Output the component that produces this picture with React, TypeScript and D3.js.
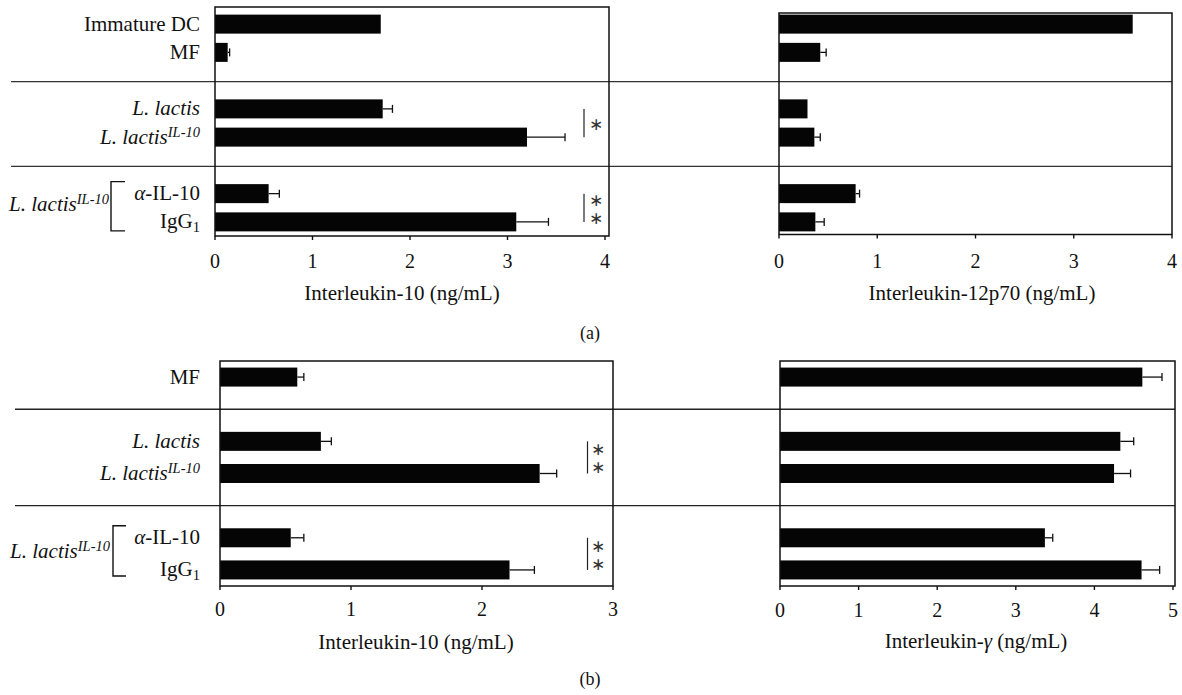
import React from 'react';
import * as d3 from 'd3';

// ---------- data ----------
const topCategories = ['Immature DC', 'MF', 'L. lactis', 'L. lactis^IL-10', 'α-IL-10', 'IgG_1'];
const il10TopValues = [1.7, 0.13, 1.72, 3.2, 0.55, 3.09];
const il10TopErrors: (number | null)[] = [null, 0.02, 0.1, 0.39, 0.11, 0.33];
const il12Values = [3.6, 0.42, 0.29, 0.36, 0.78, 0.37];
const il12Errors: (number | null)[] = [null, 0.06, null, 0.06, 0.04, 0.09];

const bottomCategories = ['MF', 'L. lactis', 'L. lactis^IL-10', 'α-IL-10', 'IgG_1'];
const il10BottomValues = [0.59, 0.77, 2.44, 0.54, 2.21];
const il10BottomErrors: (number | null)[] = [0.05, 0.08, 0.13, 0.1, 0.19];
const ifnValues = [4.61, 4.33, 4.25, 3.37, 4.6];
const ifnErrors: (number | null)[] = [0.25, 0.17, 0.21, 0.1, 0.23];

const ticksIl10Top = [0, 1, 2, 3, 4];
const ticksIl12 = [0, 1, 2, 3, 4];
const ticksIl10Bottom = [0, 1, 2, 3];
const ticksIfn = [0, 1, 2, 3, 4, 5];

const groupLabel = 'L. lactis^IL-10';
const topSignificance = [
  { from: 2, to: 3, stars: 1 },
  { from: 4, to: 5, stars: 2 },
];
const bottomSignificance = [
  { from: 1, to: 2, stars: 2 },
  { from: 3, to: 4, stars: 2 },
];

// ---------- layout ----------
const FONT = "'Liberation Serif', 'Times New Roman', serif";
const topSlots = [0, 1, 3, 4, 6, 7];
const topSeparatorSlots = [2, 5];
const bottomSlots = [0, 2, 3, 5, 6];
const bottomSeparatorSlots = [1, 4];
const BAR_H = 19;

function Label({ cat, x, y, anchor = 'end' }: { cat: string; x: number; y: number; anchor?: string }) {
  let base = cat;
  let sup: string | null = null;
  let sub: string | null = null;
  if (cat.includes('^')) [base, sup] = cat.split('^');
  else if (cat.includes('_')) [base, sub] = cat.split('_');
  const italicBase = base.startsWith('L.');
  return (
    <text x={x} y={y} textAnchor={anchor} fontFamily={FONT} fontSize={21} fill="#111">
      {base.startsWith('α') ? (
        <>
          <tspan fontStyle="italic">α</tspan>
          <tspan>{base.slice(1)}</tspan>
        </>
      ) : (
        <tspan fontStyle={italicBase ? 'italic' : 'normal'}>{base}</tspan>
      )}
      {sup && (
        <tspan fontStyle="italic" fontSize={14.5} dy={-7}>
          {sup}
        </tspan>
      )}
      {sub && (
        <tspan fontSize={14.5} dy={4}>
          {sub}
        </tspan>
      )}
    </text>
  );
}

type PanelProps = {
  values: number[];
  errors: (number | null)[];
  domain: [number, number];
  range: [number, number];
  yScale: d3.ScaleBand<number>;
  slots: number[];
  boxTop: number;
  axisY: number;
  boxRightPad: number;
  ticks: number[];
  tickY: number;
};

function Panel(p: PanelProps) {
  const x = d3.scaleLinear().domain(p.domain).range(p.range);
  const cy = (i: number) => (p.yScale(p.slots[i]) as number) + p.yScale.bandwidth() / 2;
  const left = x(p.domain[0]);
  const right = x(p.domain[1]) + p.boxRightPad;
  return (
    <g>
      {p.values.map((v, i) => (
        <rect key={'b' + i} x={left} y={cy(i) - BAR_H / 2} width={x(v) - left} height={BAR_H} fill="#050505" />
      ))}
      {p.values.map((v, i) => {
        const e = p.errors[i];
        if (e == null) return null;
        const x2 = x(v + e);
        return (
          <g key={'e' + i} stroke="#111" strokeWidth={1.3}>
            <line x1={x(v)} x2={x2} y1={cy(i)} y2={cy(i)} />
            <line x1={x2} x2={x2} y1={cy(i) - 4} y2={cy(i) + 4} />
          </g>
        );
      })}
      <path
        d={`M${left},${p.axisY} L${left},${p.boxTop} L${right},${p.boxTop} L${right},${p.axisY} Z`}
        fill="none"
        stroke="#111"
        strokeWidth={1.5}
      />
      {p.ticks.map((t) => (
        <g key={'t' + t}>
          <line x1={x(t)} x2={x(t)} y1={p.axisY} y2={p.axisY + 4} stroke="#111" strokeWidth={1.4} />
          <text x={x(t)} y={p.tickY} textAnchor="middle" fontFamily={FONT} fontSize={20} fill="#111">
            {t}
          </text>
        </g>
      ))}
    </g>
  );
}

function Significance({
  marks,
  cy,
  lineX,
  starX,
}: {
  marks: { from: number; to: number; stars: number }[];
  cy: (i: number) => number;
  lineX: number;
  starX: number;
}) {
  return (
    <g>
      {marks.map((m, k) => {
        const y1 = cy(m.from);
        const y2 = cy(m.to);
        const mid = (y1 + y2) / 2;
        return (
          <g key={k}>
            <line x1={lineX} x2={lineX} y1={y1} y2={y2} stroke="#222" strokeWidth={1.2} />
            <text
              x={starX}
              y={mid}
              writingMode="vertical-rl"
              textAnchor="middle"
              letterSpacing={-2}
              style={{ textOrientation: 'upright' } as React.CSSProperties}
              fontFamily="'DejaVu Sans', sans-serif"
              fontSize={17}
              fill="#333"
            >
              {'∗'.repeat(m.stars)}
            </text>
          </g>
        );
      })}
    </g>
  );
}

function Bracket({ x, y1, y2, w }: { x: number; y1: number; y2: number; w: number }) {
  return (
    <path d={`M${x + w},${y1} L${x},${y1} L${x},${y2} L${x + w},${y2}`} fill="none" stroke="#111" strokeWidth={1.4} />
  );
}

export default function App() {
  const yTop = d3.scaleBand<number>().domain(d3.range(8)).range([10, 236]);
  const yBottom = d3.scaleBand<number>().domain(d3.range(7)).range([361, 586]);
  const cyTop = (i: number) => (yTop(topSlots[i]) as number) + yTop.bandwidth() / 2;
  const cyBottom = (i: number) => (yBottom(bottomSlots[i]) as number) + yBottom.bandwidth() / 2;
  const slotCenterTop = (s: number) => (yTop(s) as number) + yTop.bandwidth() / 2;
  const slotCenterBottom = (s: number) => (yBottom(s) as number) + yBottom.bandwidth() / 2;

  const topGroupMid = (cyTop(4) + cyTop(5)) / 2;
  const bottomGroupMid = (cyBottom(3) + cyBottom(4)) / 2;

  return (
    <svg width={1182} height={695} style={{ position: 'absolute', left: 0, top: 0, background: '#fff' }}>
      <rect width={1182} height={695} fill="#fff" />

      {/* separators */}
      {topSeparatorSlots.map((s) => (
        <line key={'st' + s} x1={11} x2={1172} y1={slotCenterTop(s) + 1} y2={slotCenterTop(s) + 1} stroke="#333" strokeWidth={1.4} />
      ))}
      {bottomSeparatorSlots.map((s) => (
        <line key={'sb' + s} x1={15} x2={1175} y1={slotCenterBottom(s)} y2={slotCenterBottom(s)} stroke="#222" strokeWidth={1.4} />
      ))}

      {/* row labels */}
      {topCategories.map((c, i) => (
        <Label key={'lt' + i} cat={c} x={200} y={cyTop(i) + 6.5} />
      ))}
      {bottomCategories.map((c, i) => (
        <Label key={'lb' + i} cat={c} x={200} y={cyBottom(i) + 6.5} />
      ))}
      <Label cat={groupLabel} x={109} y={topGroupMid + 3} />
      <Label cat={groupLabel} x={110} y={bottomGroupMid + 4} />
      <Bracket x={111} y1={cyTop(4) - 12} y2={cyTop(5) + 9} w={14} />
      <Bracket x={113} y1={cyBottom(3) - 12} y2={cyBottom(4) + 6} w={13} />

      {/* panels */}
      <Panel
        values={il10TopValues}
        errors={il10TopErrors}
        domain={[0, 4]}
        range={[215, 605]}
        yScale={yTop}
        slots={topSlots}
        boxTop={7}
        axisY={236}
        boxRightPad={4}
        ticks={ticksIl10Top}
        tickY={267.5}
      />
      <Panel
        values={il12Values}
        errors={il12Errors}
        domain={[0, 4]}
        range={[779, 1172]}
        yScale={yTop}
        slots={topSlots}
        boxTop={13}
        axisY={234.5}
        boxRightPad={0}
        ticks={ticksIl12}
        tickY={268}
      />
      <Panel
        values={il10BottomValues}
        errors={il10BottomErrors}
        domain={[0, 3]}
        range={[220, 613]}
        yScale={yBottom}
        slots={bottomSlots}
        boxTop={361}
        axisY={586}
        boxRightPad={0}
        ticks={ticksIl10Bottom}
        tickY={616}
      />
      <Panel
        values={ifnValues}
        errors={ifnErrors}
        domain={[0, 5]}
        range={[780, 1173]}
        yScale={yBottom}
        slots={bottomSlots}
        boxTop={361}
        axisY={586}
        boxRightPad={2}
        ticks={ticksIfn}
        tickY={617}
      />

      <Significance marks={topSignificance} cy={cyTop} lineX={584} starX={596} />
      <Significance marks={bottomSignificance} cy={cyBottom} lineX={587.5} starX={598} />

      {/* axis titles */}
      <text x={402} y={300} textAnchor="middle" fontFamily={FONT} fontSize={21} fill="#111">
        Interleukin-10 (ng/mL)
      </text>
      <text x={982} y={300} textAnchor="middle" fontFamily={FONT} fontSize={21} fill="#111">
        Interleukin-12p70 (ng/mL)
      </text>
      <text x={416} y={649} textAnchor="middle" fontFamily={FONT} fontSize={21} fill="#111">
        Interleukin-10 (ng/mL)
      </text>
      <text x={976} y={648} textAnchor="middle" fontFamily={FONT} fontSize={21} fill="#111">
        Interleukin-<tspan fontStyle="italic">γ</tspan> (ng/mL)
      </text>

      <text x={590} y={339} textAnchor="middle" fontFamily={FONT} fontSize={18} fill="#111">
        (a)
      </text>
      <text x={590} y={685} textAnchor="middle" fontFamily={FONT} fontSize={18} fill="#111">
        (b)
      </text>
    </svg>
  );
}
